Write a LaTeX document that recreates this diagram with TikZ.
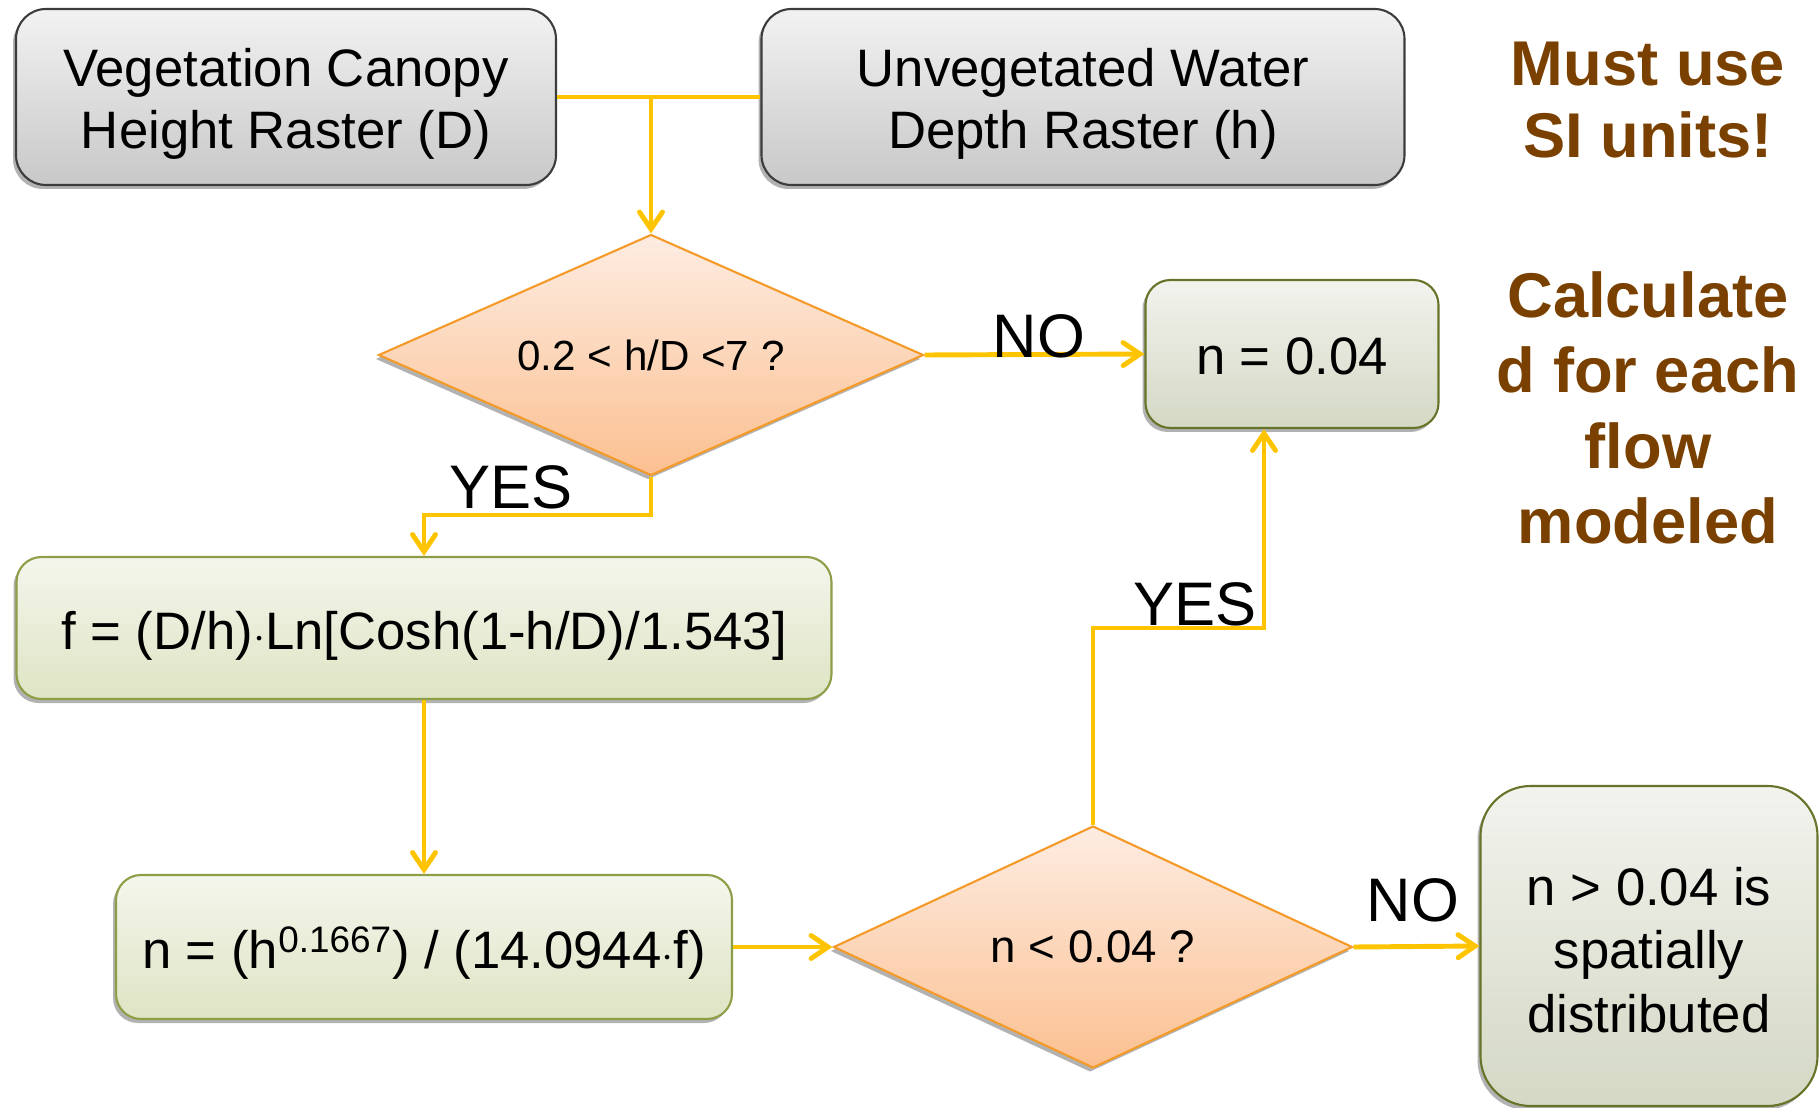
\documentclass[tikz,border=0pt]{standalone}
\usepackage{fontspec}
\setmainfont{Liberation Sans}
\usetikzlibrary{shapes.geometric,arrows.meta,shadows,calc}
\definecolor{arrowc}{RGB}{255,196,0}
\definecolor{brownt}{RGB}{122,64,0}
\definecolor{grayborder}{RGB}{60,60,60}
\definecolor{graytop}{RGB}{242,242,242}
\definecolor{graybot}{RGB}{200,200,200}
\definecolor{greentop}{RGB}{244,246,236}
\definecolor{greenbot}{RGB}{222,228,196}
\definecolor{greenborder}{RGB}{140,158,70}
\definecolor{sagetop}{RGB}{242,243,238}
\definecolor{sagebot}{RGB}{212,216,196}
\definecolor{sageborder}{RGB}{100,116,40}
\definecolor{diatop}{RGB}{253,236,226}
\definecolor{diabot}{RGB}{251,192,145}
\definecolor{diaborder}{RGB}{244,154,40}
\begin{document}
\begin{tikzpicture}[x=0.02cm,y=-0.02cm,
  shad/.style={drop shadow={shadow xshift=-0.06cm,shadow yshift=-0.08cm,opacity=0.3,fill=black}},
  graybox/.style={shad,draw=grayborder,line width=1.2pt,rounded corners=0.6cm,top color=graytop,bottom color=graybot,inner sep=0pt},
  greenbox/.style={shad,draw=greenborder,line width=1.2pt,rounded corners=0.5cm,top color=greentop,bottom color=greenbot,inner sep=0pt},
  sagebox/.style={shad,draw=sageborder,line width=1.2pt,rounded corners=0.5cm,top color=sagetop,bottom color=sagebot,inner sep=0pt},
  boxtext/.style={align=center,inner sep=0pt,font=\fontsize{30}{36}\selectfont},
  decision/.style={shad,diamond,draw=diaborder,line width=1.2pt,top color=diatop,bottom color=diabot,inner sep=0pt,align=center},
  conn/.style={draw=arrowc,line width=2.8pt},
  arr/.style={conn,-{Straight Barb[length=0.34cm,width=0.46cm,line cap=round]}},
  lbl/.style={font=\fontsize{35}{40}\selectfont,inner sep=0pt},
  note/.style={text=brownt,align=center,inner sep=0pt}
]
\useasboundingbox (0,0) rectangle (1820,1108);

\node[graybox,minimum width=540*0.02cm,minimum height=176*0.02cm] (veg) at (286,97) {};
\node[boxtext,font=\fontsize{30}{35}\selectfont] (vegT) at ($(veg.center)+(0,7)$) {Vegetation Canopy\\Height Raster (D)};
\node[graybox,minimum width=643*0.02cm,minimum height=176*0.02cm] (unveg) at (1083,97) {};
\node[boxtext,font=\fontsize{30}{35}\selectfont] (unvegT) at ($(unveg.center)+(0,7)$) {Unvegetated Water\\Depth Raster (h)};

\node[decision,minimum width=545*0.02cm,minimum height=241*0.02cm,aspect=2.26,font=\fontsize{24}{28}\selectfont] (d1) at (651,355) {0.2 < h/D <7 ?};
\node[sagebox,minimum width=293*0.02cm,minimum height=148*0.02cm] (n004) at (1292,354) {};
\node[boxtext] (n004T) at ($(n004.center)+(0,2)$) {n = 0.04};

\node[greenbox,minimum width=815*0.02cm,minimum height=142*0.02cm] (f) at (424,628) {};
\node[boxtext] (fT) at ($(f.center)+(0,8)$) {f = (D/h)$\cdot$Ln[Cosh(1-h/D)/1.543]};
\node[greenbox,minimum width=616*0.02cm,minimum height=144*0.02cm] (n) at (424,947) {};
\node[boxtext] (nT) at ($(n.center)+(0,6)$) {n = (h\textsuperscript{0.1667}) / (14.0944$\cdot$f)};

\node[decision,minimum width=519*0.02cm,minimum height=242*0.02cm,aspect=2.14,font=\fontsize{26}{30}\selectfont] (d2) at (1093,947) {n < 0.04 ?};
\node[sagebox,rounded corners=1cm,minimum width=337*0.02cm,minimum height=320*0.02cm] (dist) at (1649,946) {};
\node[boxtext] (distT) at ($(dist.center)+(0,4)$) {n > 0.04 is\\spatially\\distributed};

\node[note,font=\fontsize{36}{41}\selectfont\bfseries] (must) at (1648,100) {Must use\\SI units!};
\node[note,font=\fontsize{36}{43}\selectfont\bfseries] (calc) at (1648,408) {Calculate\\d for each\\flow\\modeled};

% connectors
\coordinate (j1) at (d1.north |- veg.east);
\draw[conn] (veg.east) -- (unveg.west);
\draw[arr] (j1) -- (d1.north);
\draw[arr] (d1.east) -- (n004.west);
\coordinate (k1) at (651,515);
\draw[arr] (d1.south) -- (k1) -| (f.north);
\draw[arr] (f.south) -- (n.north);
\draw[arr] (n.east) -- (d2.west);
\coordinate (k2) at (1264,628);
\draw[arr] (d2.north) |- (k2) -- (k2 |- n004.south);
\draw[arr] (d2.east) -- (dist.west);

% labels
\node[lbl] (no1) at (1039,336) {NO};
\node[lbl] (yes1) at (511,487) {YES};
\node[lbl] (yes2) at (1195,604) {YES};
\node[lbl] (no2) at (1413,900) {NO};
\end{tikzpicture}
\end{document}
